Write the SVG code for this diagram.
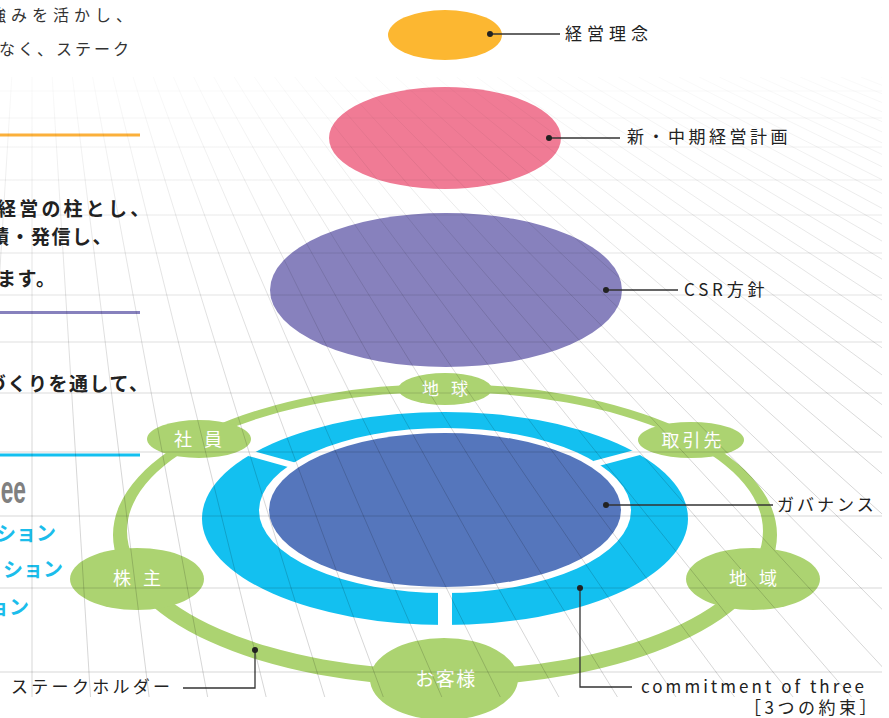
<svg xmlns="http://www.w3.org/2000/svg" width="889" height="718" viewBox="0 0 889 718">
<style>
.jp{font-family:"Noto Sans CJK JP","Noto Sans",sans-serif}
.lbl{font-family:"Noto Sans CJK JP","Noto Sans",sans-serif;font-size:17px;fill:#222}
.nt{font-family:"Noto Sans CJK JP",sans-serif;fill:#fff;text-anchor:middle}
.body{font-family:"Noto Sans CJK JP",sans-serif;font-size:16px;fill:#333}
.bold{font-family:"Noto Sans CJK JP",sans-serif;font-size:19px;font-weight:bold;fill:#222}
.cy{font-family:"Noto Sans CJK JP",sans-serif;font-size:20px;font-weight:bold;fill:#1BBDEB;text-anchor:end}
.lead{stroke:#333;stroke-width:1.3;fill:none}
.dot{fill:#222}
.green{fill:#ACD371}
</style>
<defs>
<linearGradient id="gfade" gradientUnits="userSpaceOnUse" x1="0" y1="77" x2="0" y2="460">
<stop offset="0" stop-color="#000" stop-opacity="0.02"/>
<stop offset="0.45" stop-color="#000" stop-opacity="0.1"/>
<stop offset="1" stop-color="#000" stop-opacity="0.16"/>
</linearGradient>
<clipPath id="gclip"><rect x="0" y="77" width="882" height="620"/></clipPath>
</defs>
<rect width="889" height="718" fill="#fff"/>

<!-- left side text -->
<g id="left-text">
<text class="body" x="-10" y="21" letter-spacing="5">強みを活かし、</text>
<text class="body" x="-1" y="55" letter-spacing="3">なく、ステーク</text>
<rect x="0" y="133.5" width="140" height="3" fill="#FBB03B"/>
<text class="bold" x="-3" y="216" letter-spacing="3.2">経営の柱とし、</text>
<text class="bold" x="-10" y="244" letter-spacing="1.5">積・発信し、</text>
<text class="bold" x="-3" y="286" letter-spacing="1.5">ます。</text>
<rect x="0" y="311" width="140" height="3" fill="#8781BD"/>
<text class="bold" x="-13" y="391" letter-spacing="1.5">づくりを通して、</text>
<rect x="0" y="453.5" width="140" height="3" fill="#13C0F0"/>
<text transform="translate(26,503) scale(0.6,1)" font-family="Liberation Sans" font-weight="bold" font-size="38" fill="#808080" text-anchor="end">ee</text>
<text class="cy" x="56" y="541">ション</text>
<text class="cy" x="63" y="577">ション</text>
<text class="cy" x="29" y="615">ョン</text>
</g>

<!-- top ellipses -->
<g id="node-rinen">
<ellipse cx="445" cy="35" rx="57" ry="25" fill="#FCB731"/>
<text class="lbl" x="565" y="40" letter-spacing="5">経営理念</text>
</g>
<g id="node-chuki">
<ellipse cx="445" cy="138" rx="116" ry="51" fill="#F07B95"/>
<text class="lbl" x="627" y="143" letter-spacing="3.5">新・中期経営計画</text>
</g>
<g id="node-csr">
<ellipse cx="446" cy="290" rx="176" ry="77" fill="#8781BD"/>
<text class="lbl" x="684" y="296" letter-spacing="3.8">CSR方針</text>
</g>

<!-- stakeholder ring -->
<g id="node-stakeholder-ring">
<path class="green" fill-rule="evenodd" d="M113,535 a332,151 0 1,0 664,0 a332,151 0 1,0 -664,0 Z M127,531 a318,139 0 1,0 636,0 a318,139 0 1,0 -636,0 Z"/>
<text class="lbl" x="11" y="693" letter-spacing="3.3">ステークホルダー</text>
</g>

<!-- commitment of three ring -->
<g id="node-commitment">
<ellipse cx="445" cy="518.5" rx="243" ry="106.5" fill="#13C0F0"/>
<ellipse cx="445" cy="510.5" rx="186" ry="82.5" fill="#fff"/>
<line x1="249" y1="453" x2="296" y2="466" stroke="#fff" stroke-width="6"/>
<line x1="594" y1="464" x2="643" y2="451" stroke="#fff" stroke-width="6"/>
<rect x="438" y="588" width="14" height="40" fill="#fff"/>
<text class="lbl" x="641" y="693" font-family="Noto Sans" textLength="223" lengthAdjust="spacing">commitment of three</text>
<text class="lbl" x="744" y="714" letter-spacing="3.5">［3つの約束］</text>
</g>
<g id="node-governance">
<ellipse cx="445" cy="510" rx="176" ry="77" fill="#5576BC"/>
<text class="lbl" x="777" y="511" letter-spacing="3">ガバナンス</text>
</g>

<!-- stakeholder nodes -->
<g id="node-chikyu">
<ellipse class="green" cx="445" cy="389" rx="47" ry="16"/>
<text class="nt" x="447" y="395" font-size="17" letter-spacing="4">地 球</text>
</g>
<g id="node-shain">
<ellipse class="green" cx="199" cy="439" rx="52" ry="19"/>
<text class="nt" x="200" y="446" font-size="18" letter-spacing="4">社 員</text>
</g>
<g id="node-torihikisaki">
<ellipse class="green" cx="691" cy="440" rx="53" ry="18"/>
<text class="nt" x="693" y="447" font-size="18" letter-spacing="3">取引先</text>
</g>
<g id="node-kabunushi">
<ellipse class="green" cx="137" cy="579" rx="67" ry="31"/>
<text class="nt" x="139" y="585" font-size="18" letter-spacing="4">株 主</text>
</g>
<g id="node-chiiki">
<ellipse class="green" cx="753" cy="579" rx="67" ry="31"/>
<text class="nt" x="755" y="585" font-size="18" letter-spacing="4">地 域</text>
</g>
<g id="node-okyakusama">
<ellipse class="green" cx="444" cy="679" rx="74" ry="41"/>
<text class="nt" x="446" y="686" font-size="19" letter-spacing="1.5">お客様</text>
</g>

<!-- connectors (leader lines) -->
<g id="connectors">
<line class="lead" x1="490" y1="34" x2="560" y2="34"/>
<circle class="dot" cx="490" cy="34" r="3"/>
<line class="lead" x1="549" y1="138" x2="620" y2="138"/>
<circle class="dot" cx="549" cy="138" r="3"/>
<line class="lead" x1="606" y1="290" x2="678" y2="290"/>
<circle class="dot" cx="606" cy="290" r="3"/>
<line class="lead" x1="606" y1="505" x2="773" y2="505"/>
<circle class="dot" cx="606" cy="505" r="3"/>
<polyline class="lead" points="580,588 580,687 632,687"/>
<circle class="dot" cx="580" cy="588" r="3"/>
<polyline class="lead" points="255,650 255,688 183,688"/>
<circle class="dot" cx="255" cy="650" r="3"/>
</g>

<!-- perspective grid -->
<g id="grid" clip-path="url(#gclip)" stroke="url(#gfade)" stroke-width="1" fill="none">
<path d="M0,91H882M0,118H882M0,147H882M0,180H882M0,215H882M0,253H882M0,295H882M0,342H882M0,393H882M0,452H882M0,516H882M0,588H882M0,672H882"/>
<path d="M11.8,77L-26.7,700M32,77L32,700M52.2,77L90.7,700M72.4,77L149.5,700M92.6,77L208.2,700M112.9,77L266.9,700M133.1,77L325.7,700M153.3,77L384.4,700M173.5,77L443.1,700M193.7,77L501.8,700M213.9,77L560.6,700M234.2,77L619.3,700M254.4,77L678,700M274.6,77L736.8,700M294.8,77L795.5,700M315,77L854.2,700M335.2,77L913,700M355.5,77L971.7,700M375.7,77L1030.4,700M395.9,77L1089.1,700M416.1,77L1147.9,700M436.3,77L1206.6,700M456.5,77L1265.3,700M476.8,77L1324.1,700M497,77L1382.8,700M517.2,77L1441.5,700M537.4,77L1500.3,700M557.6,77L1559,700M577.8,77L1617.7,700M598,77L1676.4,700M618.3,77L1735.2,700M638.5,77L1793.9,700M658.7,77L1852.6,700M678.9,77L1911.4,700M699.1,77L1970.1,700M719.3,77L2028.8,700M739.6,77L2087.6,700M759.8,77L2146.3,700M780,77L2205,700M800.2,77L2263.7,700M820.4,77L2322.5,700M840.6,77L2381.2,700M860.9,77L2439.9,700M881.1,77L2498.6,700"/>
</g>
</svg>
